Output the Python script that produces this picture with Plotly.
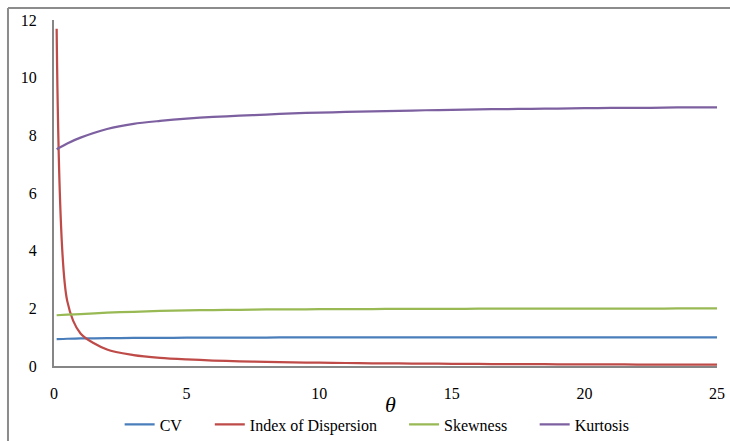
import plotly.graph_objects as go

# theta sample points
theta = [0.1, 0.5, 1, 2, 3, 4, 5, 6, 7, 8, 9, 10, 11, 12, 13, 14, 15,
         16, 17, 18, 19, 20, 21, 22, 23, 24, 25]

cv = [0.93, 0.945, 0.955, 0.965, 0.972, 0.977, 0.981, 0.984, 0.986, 0.988,
      0.989, 0.990, 0.991, 0.992, 0.993, 0.993, 0.994, 0.994, 0.995, 0.995,
      0.995, 0.996, 0.996, 0.996, 0.996, 0.997, 0.997]

index_of_dispersion = [11.7, 2.25, 1.13, 0.57, 0.38, 0.285, 0.23, 0.19, 0.163,
                       0.143, 0.127, 0.114, 0.104, 0.095, 0.088, 0.082, 0.076,
                       0.071, 0.067, 0.064, 0.060, 0.057, 0.055, 0.052, 0.050,
                       0.048, 0.046]

skewness = [1.76, 1.78, 1.80, 1.85, 1.88, 1.91, 1.93, 1.94, 1.95, 1.96,
            1.965, 1.97, 1.973, 1.976, 1.979, 1.982, 1.984, 1.986, 1.988,
            1.989, 1.990, 1.991, 1.992, 1.993, 1.994, 1.995, 1.996]

kurtosis = [7.52, 7.72, 7.92, 8.22, 8.40, 8.50, 8.58, 8.64, 8.68, 8.72,
            8.76, 8.79, 8.81, 8.83, 8.85, 8.87, 8.88, 8.90, 8.91, 8.92,
            8.93, 8.94, 8.95, 8.95, 8.96, 8.97, 8.97]

series = [
    ("CV", cv, "#4a7ebb"),
    ("Index of Dispersion", index_of_dispersion, "#be4b48"),
    ("Skewness", skewness, "#98b954"),
    ("Kurtosis", kurtosis, "#7d60a0"),
]

# left edge of each legend entry, in paper units
legend_x = [0.099, 0.235, 0.528, 0.725]

serif = "Liberation Serif"

fig = go.Figure()
legends = {}
for i, ((name, vals, color), lx) in enumerate(zip(series, legend_x)):
    key = "legend" if i == 0 else f"legend{i + 1}"
    fig.add_trace(go.Scatter(
        x=theta, y=vals, name=name, mode="lines", legend=key,
        line=dict(color=color, width=2.25, shape="spline", smoothing=0.8),
    ))
    legends[key] = dict(orientation="h", x=lx, xanchor="left", y=-0.169,
                        yanchor="middle", font=dict(family=serif, size=16),
                        itemwidth=30, bgcolor="rgba(0,0,0,0)")

border = dict(color="#8c8c8c", width=2)

fig.update_layout(
    width=730, height=441,
    margin=dict(l=54, r=13, t=20, b=74.5, autoexpand=False),
    paper_bgcolor="white", plot_bgcolor="white",
    font=dict(family=serif, size=16, color="black"),
    showlegend=True,
    xaxis=dict(range=[0, 25], tickvals=[0, 5, 10, 15, 20, 25],
               showgrid=False, zeroline=False, showline=True,
               linecolor="#868686", linewidth=2, ticks="",
               ticklabelstandoff=12, tickfont=dict(family=serif, size=16)),
    yaxis=dict(range=[0, 12], tickvals=[0, 2, 4, 6, 8, 10, 12],
               showgrid=False, zeroline=False, showline=True,
               linecolor="#868686", linewidth=2, ticks="",
               ticklabelstandoff=12, tickfont=dict(family=serif, size=16)),
    annotations=[dict(text="<i>θ</i>", x=0.507, y=-0.111, xref="paper", yref="paper",
                      showarrow=False, xanchor="center", yanchor="middle",
                      font=dict(family=serif, size=22, color="black"))],
    # outer frame: left and top edges
    shapes=[
        dict(type="line", xref="paper", yref="paper",
             x0=-0.0694, x1=-0.0694, y0=-0.3, y1=1.0346, line=border),
        dict(type="line", xref="paper", yref="paper",
             x0=-0.0694, x1=1.05, y0=1.0346, y1=1.0346, line=border),
    ],
    **legends,
)

fig.write_html("out.html")
